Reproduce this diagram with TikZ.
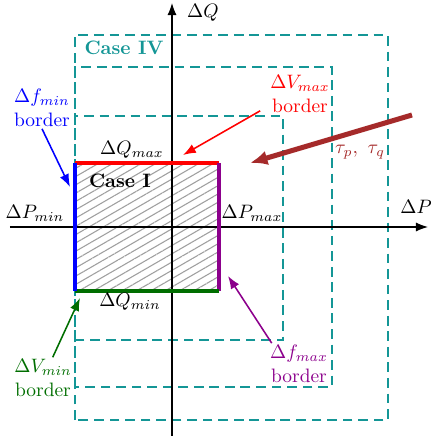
\documentclass[tikz,border=0pt]{standalone}
\usepackage{amsmath,amssymb}
\usepackage{tikz}
\usetikzlibrary{arrows.meta,patterns.meta}

\definecolor{caseteal}{RGB}{20,150,150}
\definecolor{taured}{RGB}{165,42,42}
\definecolor{vmingreen}{RGB}{0,110,0}
\definecolor{fmaxpurple}{RGB}{140,0,140}

\begin{document}
\begin{tikzpicture}[x=0.0181cm,y=0.0181cm,
    axis/.style={line width=0.6pt,-{Latex[scale=1.1]}},
    limit/.style={dash pattern=on 5pt off 3pt,line width=0.7pt,draw=caseteal},
    edge/.style={line width=1.7pt},
    pointer/.style={line width=0.8pt,-{Latex}},
    txt/.style={align=center,inner sep=1pt}]

\useasboundingbox (-172,-209) rectangle (258,227);

%==================== limit rectangles ====================
\draw[limit] (-97,-193) rectangle (216,192);
\draw[limit] (-97,-160) rectangle (160,160);
\draw[limit] (-97,-113) rectangle (111,111);
\node[txt,text=caseteal,font=\bfseries] (c4) at (-48,179) {Case IV};

%==================== feasible box ====================
\fill[white] (-97,-64) rectangle (47,64);
\fill[pattern={Lines[angle=30,distance=3.7pt,line width=0.55pt]},pattern color=gray!75]
    (-97,-64) rectangle (47,64);

% axes
\coordinate (O) at (0,0);
\coordinate (xs) at (-162,0);
\coordinate (xe) at (256,0);
\coordinate (ys) at (0,-209);
\coordinate (ye) at (0,224);
\draw[axis] (xs) -- (xe);
\draw[axis] (ys) -- (ye);
\node[txt] (lq) at (31,214) {$\Delta Q$};
\node[txt] (lp) at (244,20) {$\Delta P$};

% box borders
\coordinate (bl) at (-97,-64);
\coordinate (br) at (47,-64);
\coordinate (tl) at (-97,64);
\coordinate (tr) at (47,64);
\draw[edge,red] (tl) -- (tr);
\draw[edge,fmaxpurple] (tr) -- (br);
\draw[edge,vmingreen] (bl) -- (br);
\draw[edge,blue] (bl) -- (tl);

\node[txt,font=\bfseries] (c1) at (-52,46) {Case I};
\node[txt] (pmin) at (-137,14) {$\Delta P_{min}$};
\node[txt] (pmax) at (80,14) {$\Delta P_{max}$};
\node[txt] (qmax) at (-40,77) {$\Delta Q_{max}$};
\node[txt] (qmin) at (-42,-75) {$\Delta Q_{min}$};

%==================== border labels ====================
\node[txt,text=blue] (fmin) at (-130,119) {$\Delta f_{min}$\\border};
\node[txt,text=red] (vmax) at (128,133) {$\Delta V_{max}$\\border};
\node[txt,text=vmingreen] (vmin) at (-129,-151) {$\Delta V_{min}$\\border};
\node[txt,text=fmaxpurple] (fmax) at (127,-137) {$\Delta f_{max}$\\border};
\node[txt,text=taured] (tau) at (188,75) {$\tau_p,\ \tau_q$};

\coordinate (fminend) at (-102,40);
\coordinate (vmaxend) at (11,72);
\coordinate (vminend) at (-92,-71);
\coordinate (fmaxend) at (56,-49);
\coordinate (taus) at (240,112);
\coordinate (taue) at (78,64);

\draw[pointer,blue] (fmin.south) -- (fminend);
\draw[pointer,red] ([xshift=-4pt,yshift=2pt]vmax.south west) -- (vmaxend);
\draw[pointer,vmingreen] ([xshift=5pt]vmin.north) -- (vminend);
\draw[pointer,fmaxpurple] ([xshift=2pt]fmax.north west) -- (fmaxend);
\draw[taured,line width=2.6pt,-{Latex[length=9pt,width=7.5pt]}] (taus) -- (taue);

\end{tikzpicture}
\end{document}
